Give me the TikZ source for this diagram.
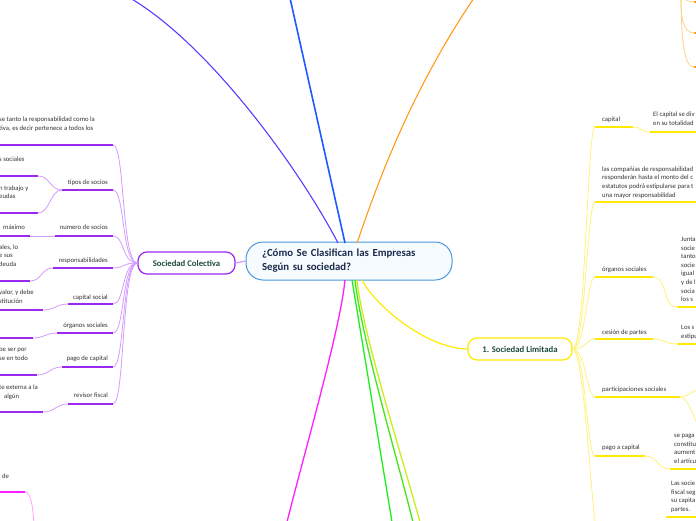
\documentclass[tikz,border=0pt]{standalone}
\usepackage{fontspec}
\setmainfont{Carlito}
\definecolor{pdark}{HTML}{9C27F0}
\definecolor{plight}{HTML}{D29BFF}
\definecolor{ydark}{HTML}{FFEA00}
\definecolor{ylight}{HTML}{FFF27A}
\definecolor{mdark}{HTML}{FF1EFF}
\definecolor{mlight}{HTML}{FFA0FF}
\definecolor{odark}{HTML}{FF9A1A}
\definecolor{olight}{HTML}{FFD08A}
\definecolor{bluec}{HTML}{1E5BFF}
\definecolor{violc}{HTML}{5B3CFF}
\definecolor{greena}{HTML}{1CF01C}
\definecolor{greenb}{HTML}{44E51A}
\definecolor{greenc}{HTML}{C8F01A}
\definecolor{cstroke}{HTML}{4A98DA}
\definecolor{cfill}{HTML}{F6FBFF}
\definecolor{ctext}{HTML}{1B2B4B}
\definecolor{gtext}{HTML}{1E4B3C}
\definecolor{txtc}{HTML}{333333}
\begin{document}
\begin{tikzpicture}[x=1pt,y=-1pt,
  lbl/.style={font=\fontsize{6.7}{8.6}\selectfont, text=txtc, inner sep=0pt, align=left},
  pu/.style={draw=pdark, line width=1.8pt},
  pc/.style={draw=plight, line width=0.8pt},
  yu/.style={draw=ydark, line width=1.8pt},
  yc/.style={draw=ylight, line width=0.8pt},
  mainbr/.style={line width=1.6pt},
  topic/.style={draw, rounded corners=9pt, fill=white, line width=1.2pt, minimum height=22pt, inner sep=0pt, font=\fontsize{8.7}{10}\selectfont\bfseries, text=gtext}]
\useasboundingbox (0,0) rectangle (696,520);
\clip (0,0) rectangle (696,520);

% ---------- central topic ----------
\node[draw=cstroke, fill=cfill, line width=1pt, rounded corners=17pt,
      minimum width=206pt, minimum height=38pt, text width=174pt, inner xsep=16pt, inner ysep=0pt,
      align=left, font=\fontsize{10.8}{14}\selectfont\bfseries, text=ctext] (c) at (349,261)
  {¿Cómo Se Clasifican las Empresas\\Según su sociedad?};

% ---------- main branches leaving the frame ----------
\coordinate (vio) at (130,-2);
\coordinate (blu) at (290,-2);
\coordinate (ora) at (474,-2);
\coordinate (mag) at (287,522);
\coordinate (gra) at (392,522);
\coordinate (grb) at (413,522);
\coordinate (grc) at (420,522);
\coordinate (cvio) at (338,243);
\coordinate (cblu) at (345,243);
\coordinate (cora) at (357,243);
\coordinate (cmag) at (345,280);
\coordinate (cgra) at (352,280);
\coordinate (cgrb) at (355,280);
\coordinate (cgrc) at (357,280);
\coordinate (cyel) at (362,280);

\draw[violc, line width=1.1pt] (cvio) .. controls (300,170) and (210,45) .. (vio);
\draw[bluec, mainbr] (cblu) -- (blu);
\draw[odark, line width=1.1pt] (cora) .. controls (372,200) and (405,100) .. (ora);
\draw[mdark, line width=1.3pt] (cmag) .. controls (340,330) and (305,450) .. (mag);
\draw[greena, line width=1.3pt] (cgra) -- (gra);
\draw[greenb, line width=1.3pt] (cgrb) .. controls (362,340) and (395,450) .. (grb);
\draw[greenc, line width=1.3pt] (cgrc) .. controls (362,330) and (400,450) .. (grc);

% ---------- Sociedad Colectiva ----------
\node[topic, draw=pdark, minimum width=97pt] (sc) at (186.5,263) {Sociedad Colectiva};
\draw[plight, line width=1.2pt] (c.west) -- (sc.east);

% level-2 underlines (purple)
\coordinate (a1) at (-2,145);  \coordinate (b1) at (113,145);
\coordinate (a2) at (62,190);  \coordinate (b2) at (113,190);
\coordinate (a3) at (55,236);  \coordinate (b3) at (113,236);
\coordinate (a4) at (53,268);  \coordinate (b4) at (113,268);
\coordinate (a5) at (68,304);  \coordinate (b5) at (113,304);
\coordinate (a6) at (57,333);  \coordinate (b6) at (113,333);
\coordinate (a7) at (62,367);  \coordinate (b7) at (113,367);
\coordinate (a8) at (68,404);  \coordinate (b8) at (113,404);
\foreach \i in {1,...,8} {
  \draw[pc] (b\i) .. controls +(12,0) and +(-16,0) .. (sc.west);
  \draw[pu] (a\i) -- (b\i);
}
\node[lbl, anchor=base west] (t1) at (-1,130.5) {se tanto la responsabilidad como la\\tiva, es decir pertenece a todos los};
\node[lbl, anchor=base east] (l2) at (108,184.5) {tipos de socios};
\node[lbl, anchor=base east] (l3) at (108,229.5) {numero de socios};
\node[lbl, anchor=base east] (l4) at (108,262.5) {responsabilidades};
\node[lbl, anchor=base east] (l5) at (108,299.5) {capital social};
\node[lbl, anchor=base east] (l6) at (108,327.5) {órganos sociales};
\node[lbl, anchor=base east] (l7) at (108,360.5) {pago de capital};
\node[lbl, anchor=base east] (l8) at (108,397.5) {revisor fiscal};

% level-3 (purple)
\coordinate (p21a) at (-2,176); \coordinate (p21b) at (38,176);
\coordinate (p22a) at (-2,213); \coordinate (p22b) at (38,213);
\coordinate (p3a) at (-2,236);  \coordinate (p3b) at (30,236);
\coordinate (p4a) at (-2,281);  \coordinate (p4b) at (30,281);
\coordinate (p5a) at (-2,310);  \coordinate (p5b) at (43,310);
\coordinate (p6a) at (-2,338);  \coordinate (p6b) at (33,338);
\coordinate (p7a) at (-2,375);  \coordinate (p7b) at (37,375);
\coordinate (p8a) at (-2,412);  \coordinate (p8b) at (43,412);
\draw[pc] (p21b) .. controls +(12,0) and +(-12,0) .. (a2);
\draw[pc] (p22b) .. controls +(12,0) and +(-12,0) .. (a2);
\draw[pc] (p3b) -- (a3);
\draw[pc] (p4b) .. controls +(12,0) and +(-12,0) .. (a4);
\draw[pc] (p5b) .. controls +(12,0) and +(-12,0) .. (a5);
\draw[pc] (p6b) .. controls +(12,0) and +(-12,0) .. (a6);
\draw[pc] (p7b) .. controls +(12,0) and +(-12,0) .. (a7);
\draw[pc] (p8b) .. controls +(12,0) and +(-12,0) .. (a8);
\foreach \n in {21,22,3,4,5,6,7,8} { \draw[pu] (p\n a) -- (p\n b); }
\node[lbl, anchor=base west] (s21) at (-1,161.5) {s sociales};
\node[lbl, anchor=base west] (s22) at (-1,198.8) {n trabajo y\\eudas};
\node[lbl, anchor=base west] (s3) at (3,229.5) {máximo};
\node[lbl, anchor=base west] (s4) at (-1,266.2) {ales, lo\\e sus\\deuda};
\node[lbl, anchor=base west] (s5) at (-1,303.1) {valor, y debe\\stitución};
\node[lbl, anchor=base west] (s7) at (-1,360.1) {be ser por\\se en todo};
\node[lbl, anchor=base west] (s8) at (-1,398.1) {te externa a la\\\hspace*{5pt}algún};

% ---------- magenta fragment bottom left ----------
\coordinate (ma) at (-2,492); \coordinate (mb) at (25,492); \coordinate (mc) at (34,524);
\draw[mlight, line width=0.8pt] (mb) .. controls +(7,0) and +(-1,-12) .. (mc);
\draw[mdark, line width=1.8pt] (ma) -- (mb);
\node[lbl, anchor=base west] (md) at (2,478.5) {de};

% ---------- orange fragment top right ----------
\coordinate (otop) at (681,-8);
\coordinate (o1) at (694,2);  \coordinate (o1e) at (698,2);
\coordinate (o2) at (694,33); \coordinate (o2e) at (698,33);
\coordinate (o3) at (694,67); \coordinate (o3e) at (698,67);
\draw[olight, line width=0.8pt] (otop) .. controls (682,-2) and (686,2) .. (o1);
\draw[olight, line width=0.8pt] (otop) .. controls (680,20) and (684,33) .. (o2);
\draw[olight, line width=0.8pt] (otop) .. controls (681,40) and (684,67) .. (o3);
\foreach \k in {1,2,3} { \draw[odark, line width=1.6pt] (o\k) -- (o\k e); }

% ---------- 1. Sociedad Limitada ----------
\node[topic, draw=ydark, minimum width=104pt] (sl) at (520,349) {1. Sociedad Limitada};
\draw[ydark, line width=1.2pt] (cyel) .. controls (375,305) and (425,348) .. (sl.west);

\coordinate (y1a) at (595,127); \coordinate (y1b) at (633,127);
\coordinate (y2a) at (595,202); \coordinate (y2b) at (698,202);
\coordinate (y3a) at (595,277); \coordinate (y3b) at (653,277);
\coordinate (y4a) at (595,339); \coordinate (y4b) at (653,339);
\coordinate (y5a) at (595,397); \coordinate (y5b) at (680,397);
\coordinate (y6a) at (595,456); \coordinate (y6b) at (645,456);
\coordinate (y7a) at (600,545);
\foreach \i in {1,...,6} {
  \draw[yc] (sl.east) .. controls +(13,0) and +(-8,0) .. (y\i a);
  \draw[yu] (y\i a) -- (y\i b);
}
\draw[yc] (sl.east) .. controls +(13,0) and +(-8,0) .. (y7a);

\node[lbl, anchor=base west] (r1) at (602,121.5) {capital};
\node[lbl, anchor=base west] (r2) at (602,197) {las compañías de responsabilidad\\responderán hasta el monto del c\\estatutos podrá estipularse para t\\una mayor responsabilidad};
\node[lbl, anchor=base west] (r3) at (602,271.5) {órganos sociales};
\node[lbl, anchor=base west] (r4) at (602,334.5) {cesión de partes};
\node[lbl, anchor=base west] (r5) at (602,391.5) {participaciones sociales};
\node[lbl, anchor=base west] (r6) at (602,449.5) {pago a capital};

% level-3 (yellow)
\coordinate (z1a) at (650,132); \coordinate (z1b) at (698,132);
\coordinate (z3a) at (677,307); \coordinate (z3b) at (698,307);
\coordinate (z4a) at (677,344); \coordinate (z4b) at (698,344);
\coordinate (z5u) at (700,390); \coordinate (z5d) at (712,442);
\coordinate (z6a) at (670,469); \coordinate (z6b) at (698,469);
\coordinate (z7a) at (666,517); \coordinate (z7b) at (698,517);
\draw[yc] (y1b) .. controls +(10,0) and +(-10,0) .. (z1a);
\draw[yc] (y3b) .. controls +(15,0) and +(-15,0) .. (z3a);
\draw[yc] (y4b) .. controls +(12,0) and +(-12,0) .. (z4a);
\draw[yc] (y5b) .. controls +(10,0) and +(-10,0) .. (z5u);
\draw[yc] (y5b) .. controls +(12,0) and +(-14,0) .. (z5d);
\draw[yc] (y6b) .. controls +(13,0) and +(-13,0) .. (z6a);
\foreach \k in {1,3,4,6,7} { \draw[yu] (z\k a) -- (z\k b); }

\node[lbl, anchor=base west] (q1) at (653,125.1) {El capital se div\\en su totalidad};
\node[lbl, anchor=base west] (q3) at (681,301.7) {Junta\\socie\\tanto\\socie\\igual\\y de l\\socia\\los s};
\node[lbl, anchor=base west] (q4) at (681,338.1) {Los s\\estipu};
\node[lbl, anchor=base west] (q6) at (674,463.3) {se paga\\constitu\\aument\\el artícu};
\node[lbl, anchor=base west] (q7) at (671,511.3) {Las socie\\fiscal seg\\su capita\\partes.};
\end{tikzpicture}
\end{document}
